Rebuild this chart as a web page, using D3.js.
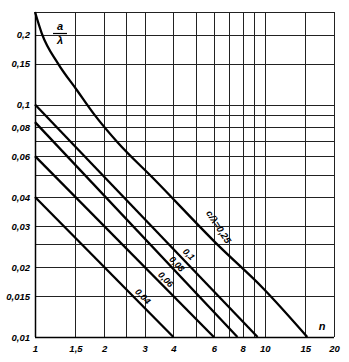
<!DOCTYPE html>
<html>
<head>
<meta charset="utf-8">
<script src="https://cdn.jsdelivr.net/npm/d3@7/dist/d3.min.js"></script>
<style>
	html, body { margin: 0; padding: 0; background: #fff; overflow: hidden; }
	svg { display: block; }
	svg text { font-family: "Liberation Sans", Arial, sans-serif; font-style: italic; font-weight: bold; fill: #000; }
</style>
</head>
<body>
<div id="chart"></div>
<script>
/* global d3 */

// tick labels (decimal comma as in the original)
var xTicks = [1, 1.5, 2, 3, 4, 6, 8, 10, 15, 20];
var xTickLabels = ["1", "1,5", "2", "3", "4", "6", "8", "10", "15", "20"];
var yTicks = [0.01, 0.015, 0.02, 0.03, 0.04, 0.06, 0.08, 0.1, 0.15, 0.2];
var yTickLabels = ["0,01", "0,015", "0,02", "0,03", "0,04", "0,06", "0,08", "0,1", "0,15", "0,2"];

// grid lines
var xGrid = [1.5, 2, 2.5, 3, 4, 5, 6, 7, 8, 9, 10, 15, 20];
var yGrid = [0.015, 0.02, 0.025, 0.03, 0.04, 0.05, 0.06, 0.07, 0.08, 0.09, 0.1, 0.15, 0.2, 0.25];

// curves: n and a/lambda
var seriesNames = ["0,04", "0,06", "0,08", "0,1", "c/λ=0,25"];
var n004 = [1, 4],        a004 = [0.04, 0.01];
var n006 = [1, 6],        a006 = [0.06, 0.01];
var n008 = [1, 7.6],      a008 = [0.084, 0.01];
var n010 = [1, 9.3],      a010 = [0.1, 0.01];
var n025 = [1, 1.07, 1.26, 1.52, 1.82, 2.3, 3.26, 6.37, 9.8, 15.3];
var a025 = [0.25, 0.2025, 0.15, 0.1155, 0.09, 0.0683, 0.0483, 0.0244, 0.01625, 0.01];

var width = 349,
	height = 362,
	margin = {top: 12, right: 15, bottom: 25, left: 35},
	innerWidth = width - margin.left - margin.right,
	innerHeight = height - margin.top - margin.bottom;

var xScale = d3.scaleLog().domain([1, 20]).range([0, innerWidth]),
	yScale = d3.scaleLog().domain([0.01, 0.25]).range([innerHeight, 0]);

var svg = d3.select("#chart").append("svg")
	.attr("width", width)
	.attr("height", height)
	.attr("viewBox", "0 0 " + width + " " + height);

var g = svg.append("g")
	.attr("transform", "translate(" + margin.left + "," + margin.top + ")");

// grid
g.selectAll(".vgrid").data(xGrid).enter().append("line")
	.attr("class", "vgrid")
	.attr("x1", function(d) { return Math.round(xScale(d)) + 0.5; })
	.attr("x2", function(d) { return Math.round(xScale(d)) + 0.5; })
	.attr("y1", 0)
	.attr("y2", innerHeight)
	.attr("stroke", "#222")
	.attr("stroke-width", 1);

g.selectAll(".hgrid").data(yGrid).enter().append("line")
	.attr("class", "hgrid")
	.attr("x1", 0)
	.attr("x2", innerWidth)
	.attr("y1", function(d) { return Math.round(yScale(d)) + 0.5; })
	.attr("y2", function(d) { return Math.round(yScale(d)) + 0.5; })
	.attr("stroke", "#222")
	.attr("stroke-width", 1);

// axis labels via d3 axes, domain path and ticks dropped
var xAxis = g.append("g")
	.attr("transform", "translate(0," + innerHeight + ")")
	.call(d3.axisBottom(xScale).tickValues(xTicks).tickSize(0).tickPadding(8)
		.tickFormat(function(d, i) { return xTickLabels[i]; }));

var yAxis = g.append("g")
	.call(d3.axisLeft(yScale).tickValues(yTicks).tickSize(0).tickPadding(5)
		.tickFormat(function(d, i) { return yTickLabels[i]; }));

[xAxis, yAxis].forEach(function(a) {
	a.select(".domain").remove();
	a.selectAll("text").attr("font-size", 9.5).style("font-family", null);
});

g.append("line")
	.attr("x1", 0.5).attr("x2", 0.5).attr("y1", 0).attr("y2", innerHeight)
	.attr("stroke", "#000").attr("stroke-width", 1.5);
g.append("line")
	.attr("x1", 0).attr("x2", innerWidth).attr("y1", innerHeight + 0.5).attr("y2", innerHeight + 0.5)
	.attr("stroke", "#000").attr("stroke-width", 1.5);
g.append("line")
	.attr("x1", 0).attr("x2", innerWidth).attr("y1", 0.5).attr("y2", 0.5)
	.attr("stroke", "#222").attr("stroke-width", 1);

// curves
var seriesN = [n004, n006, n008, n010, n025],
	seriesA = [a004, a006, a008, a010, a025];

var line = d3.line()
	.x(function(d) { return xScale(d[0]); })
	.y(function(d) { return yScale(d[1]); })
	.curve(d3.curveMonotoneX);

seriesN.forEach(function(ns, i) {
	var pts = ns.map(function(n, j) { return [n, seriesA[i][j]]; });
	g.append("path")
		.datum(pts)
		.attr("fill", "none")
		.attr("stroke", "#000")
		.attr("stroke-width", 2.3)
		.attr("d", line);
});

// curve labels: placed at a chosen n, shifted above the line
var labelAt = [
	{n: 2.95, dy: -10, angle: 46, size: 9},
	{n: 3.71, dy: -9, angle: 46, size: 9},
	{n: 4.15, dy: -9, angle: 46, size: 9},
	{n: 4.67, dy: -11, angle: 46, size: 9},
	{n: 6.3, dy: -19, angle: 57, size: 9.5}
];

function valueAt(ns, as, n) {
	var ly = d3.scaleLinear().domain(ns.map(Math.log)).range(as.map(Math.log));
	return Math.exp(ly(Math.log(n)));
}

labelAt.forEach(function(l, i) {
	var px = xScale(l.n),
		py = yScale(valueAt(seriesN[i], seriesA[i], l.n)) + l.dy;
	g.append("text")
		.attr("transform", "translate(" + px + "," + py + ") rotate(" + l.angle + ")")
		.attr("text-anchor", "middle")
		.attr("dy", "0.35em")
		.attr("font-size", l.size)
		.text(seriesNames[i]);
});

// a/lambda and n
var yLab = g.append("g").attr("transform", "translate(25,21)");
yLab.append("text").attr("x", 0).attr("y", -3).attr("text-anchor", "middle").attr("font-size", 11).text("a");
yLab.append("line").attr("x1", -7).attr("x2", 7).attr("y1", 0.5).attr("y2", 0.5).attr("stroke", "#000").attr("stroke-width", 1.2);
yLab.append("text").attr("x", 0).attr("y", 11).attr("text-anchor", "middle").attr("font-size", 11).text("λ");

g.append("text")
	.attr("x", innerWidth - 12)
	.attr("y", innerHeight - 7)
	.attr("text-anchor", "middle")
	.attr("font-size", 11)
	.text("n");
</script>
</body>
</html>
